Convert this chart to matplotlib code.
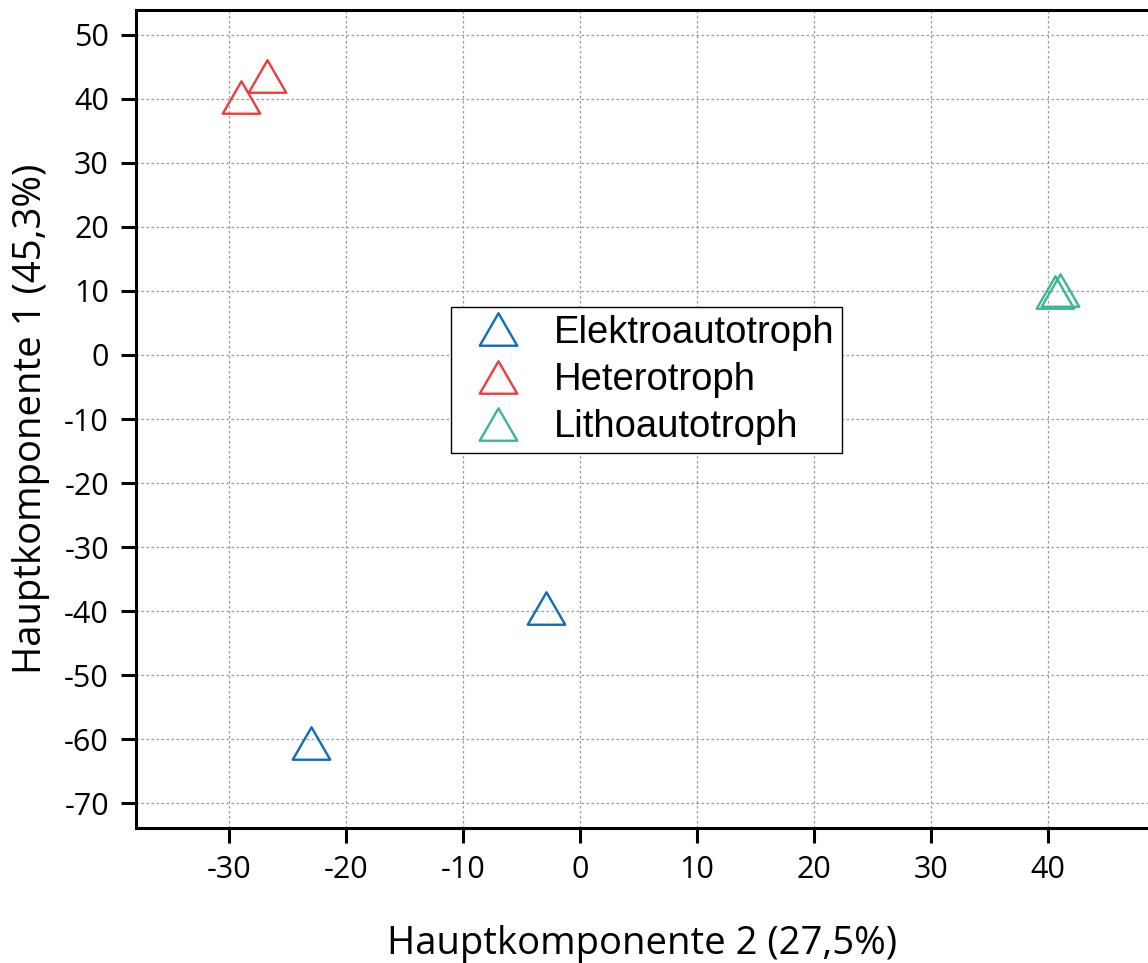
import matplotlib.pyplot as plt
from matplotlib.path import Path

plt.rcParams["axes.unicode_minus"] = False

# PCA scores (PC2 on x, PC1 on y)
groups = ["Elektroautotroph", "Heterotroph", "Lithoautotroph"]
pc2 = [[-23.0, -2.9], [-29.0, -26.8], [40.6, 41.1]]
pc1 = [[-60.6, -39.5], [40.3, 43.6], [9.8, 10.2]]
colors = ["#0f6cbd", "#f03b3e", "#3bb594"]

xticks = [-30, -20, -10, 0, 10, 20, 30, 40]
yticks = [50, 40, 30, 20, 10, 0, -10, -20, -30, -40, -50, -60, -70]

# equilateral open triangle
tri = Path([(-1, -0.866), (1, -0.866), (0, 0.866), (-1, -0.866)],
           [Path.MOVETO, Path.LINETO, Path.LINETO, Path.CLOSEPOLY])

fig = plt.figure(figsize=(11.48, 9.63), dpi=100)
ax = fig.add_axes([136/1148, 1 - 828/963, 1 - 136/1148, (828 - 10)/963])

for name, xs, ys, c in zip(groups, pc2, pc1, colors):
    ax.plot(xs, ys, linestyle="none", marker=tri, markersize=27,
            markerfacecolor="none", markeredgecolor=c, markeredgewidth=1.7,
            label=name)

ax.set_xlim(-38.0, 48.6)
ax.set_ylim(-73.9, 53.9)
ax.set_xticks(xticks)
ax.set_yticks(yticks)
ax.grid(True, color="#999999", linestyle=(0, (2, 2)), linewidth=0.9)
ax.set_axisbelow(True)

for side in ["left", "bottom", "top"]:
    ax.spines[side].set_linewidth(2.2)
ax.spines["right"].set_visible(False)
ax.tick_params(direction="out", length=11, width=2.2, labelsize=22, pad=8.5)
for lab in ax.get_xticklabels() + ax.get_yticklabels():
    lab.set_family("Open Sans")

ax.set_xlabel("Hauptkomponente 2 (27,5%)", family="Open Sans", fontsize=27.5, labelpad=29)
ax.set_ylabel("Hauptkomponente 1 (45,3%)", family="Open Sans", fontsize=27.5, labelpad=10)

leg = ax.legend(loc="upper left", bbox_to_anchor=(0.311, 0.637), borderaxespad=0,
                prop={"family": "Liberation Sans", "size": 27.5}, fancybox=False,
                edgecolor="black", framealpha=1, handletextpad=0.435,
                labelspacing=0.3, borderpad=0.2, handlelength=2.06)
leg.get_frame().set_linewidth(1.0)

fig.savefig("out.png", dpi=100)
